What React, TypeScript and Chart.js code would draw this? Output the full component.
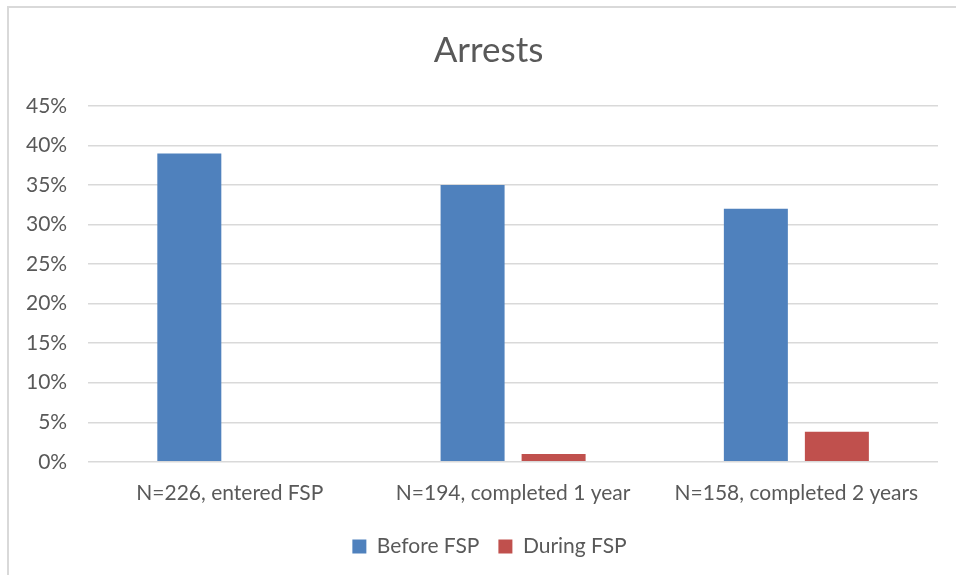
import React, { useEffect, useRef } from "react";
import { Chart, registerables } from "chart.js";

Chart.register(...registerables);

const categories = ["N=226, entered FSP", "N=194, completed 1 year", "N=158, completed 2 years"];
const beforeFSP = [39, 35, 32];
const duringFSP = [0, 1, 3.8];
const seriesNames = ["Before FSP", "During FSP"];
const titleText = "Arrests";

const FONT = "Lato, 'Open Sans', sans-serif";
const TEXT = "#595959";

const blockShift = {
  id: "blockShift",
  afterLayout(chart: any) {
    const t = chart.titleBlock;
    if (t) t.left += 34;
    const l = chart.legend;
    if (l) l.left += 36;
  },
};

export default function App() {
  const ref = useRef<HTMLCanvasElement | null>(null);
  useEffect(() => {
    if (!ref.current) return;
    const chart = new Chart(ref.current, {
      type: "bar",
      data: {
        labels: categories,
        datasets: [
          {
            label: seriesNames[0],
            data: beforeFSP,
            backgroundColor: "#4F81BD",
            categoryPercentage: 0.572,
            barPercentage: 0.79,
          },
          {
            label: seriesNames[1],
            data: duringFSP,
            backgroundColor: "#C0504D",
            categoryPercentage: 0.572,
            barPercentage: 0.79,
          },
        ],
      },
      plugins: [blockShift],
      options: {
        responsive: false,
        animation: false,
        layout: { padding: { left: 5, right: 18, top: 16, bottom: 8 } },
        plugins: {
          title: {
            display: true,
            text: titleText,
            color: TEXT,
            font: { family: FONT, size: 35, weight: "normal" },
            padding: { top: 14, bottom: 34 },
          },
          legend: {
            position: "bottom",
            labels: {
              color: TEXT,
              font: { family: FONT, size: 21 },
              boxWidth: 14,
              boxHeight: 14,
              padding: 19,
            },
          },
          tooltip: { enabled: false },
        },
        scales: {
          x: {
            grid: { display: false },
            border: { display: false },
            ticks: {
              color: TEXT,
              font: { family: FONT, size: 21 },
              padding: 11,
              maxRotation: 0,
            },
          },
          y: {
            min: 0,
            max: 45,
            grid: { color: "#d9d9d9", lineWidth: 1.5, drawTicks: false },
            border: { display: false },
            ticks: {
              stepSize: 5,
              color: TEXT,
              font: { family: FONT, size: 21 },
              padding: 21,
              callback: (v: any) => v + "%",
            },
          },
        },
      },
    });
    return () => chart.destroy();
  }, []);
  return (
    <div style={{ position: "fixed", left: 0, top: 0, width: 956, height: 575, overflow: "hidden", background: "#fff" }}>
      <div
        style={{
          position: "absolute",
          left: 7,
          top: 6,
          width: 1200,
          height: 1000,
          borderLeft: "2px solid #d9d9d9",
          borderTop: "2px solid #d9d9d9",
        }}
      />
      <canvas ref={ref} width={956} height={575} style={{ position: "absolute", left: 0, top: 0 }} />
    </div>
  );
}
